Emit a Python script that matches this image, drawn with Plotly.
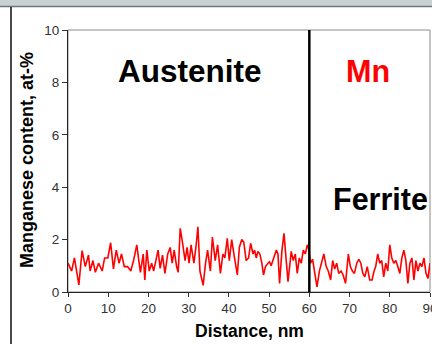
import plotly.graph_objects as go

# ---------------- data ----------------
distance_nm = [
    0.0, 0.9, 1.6, 2.7, 3.5, 4.3, 5.1, 5.5, 6.2, 6.8, 7.6, 8.5, 9.1, 9.9, 10.6, 11.3, 12.0, 12.7, 13.3, 14.0,
    14.8, 15.6, 16.3, 17.1, 18.0, 18.7, 19.1, 19.6, 20.2, 20.8, 21.3, 21.9, 22.4, 22.9, 23.5, 24.1, 24.8,
    25.4, 25.9, 26.4, 27.0, 27.4, 27.9, 28.5, 29.1, 29.6, 30.1, 30.6, 31.3, 31.8, 32.3, 32.8, 33.1, 33.6,
    34.2, 34.7, 35.4, 35.9, 36.6, 37.2, 37.9, 38.5, 39.0, 39.6, 40.1, 40.7, 41.4, 42.1, 42.6, 43.2, 43.7,
    44.3, 44.9, 45.4, 46.0, 46.4, 46.8, 47.2, 47.7, 48.2, 48.6, 49.1, 49.7, 50.1, 50.5, 51.2, 51.8, 52.2,
    52.6, 53.2, 53.7, 54.2, 54.7, 55.1, 55.5, 56.0, 56.5, 57.0, 57.5, 58.0, 58.5, 59.0, 59.5, 59.9,
    60.3, 60.8, 61.3, 61.9, 62.5, 63.0, 63.6, 64.2, 64.7, 65.3, 65.8, 66.3, 66.8, 67.3, 67.9, 68.4, 69.0,
    69.7, 70.2, 70.7, 71.2, 71.8, 72.3, 72.8, 73.3, 73.8, 74.4, 75.0, 75.6, 76.1, 76.5, 77.0, 77.5, 78.0,
    78.5, 79.0, 79.5, 80.0, 80.5, 81.0, 81.5, 82.0, 82.5, 83.0, 83.5, 84.0, 84.5, 85.0, 85.5, 86.0, 86.5,
    87.0, 87.5, 88.0, 88.5, 89.0, 89.5, 90.0,
]
mn_content = [
    1.1, 0.8, 1.3, 0.27, 1.58, 0.97, 1.41, 0.8, 1.2, 0.75, 1.1, 0.8, 1.3, 1.3, 1.88, 0.88, 1.6, 1.1, 1.45, 0.97,
    0.97, 0.8, 1.2, 1.8, 0.75, 1.45, 0.46, 1.6, 0.8, 1.1, 0.8, 1.3, 1.6, 0.9, 1.41, 0.71, 1.45,
    1.7, 1.1, 1.6, 0.97, 0.75, 2.43, 1.86, 1.2, 1.7, 1.1, 1.8, 1.1, 1.7, 2.49, 0.8, 0.6, 0.25,
    1.1, 1.6, 0.8, 2.1, 1.2, 1.8, 0.71, 1.45, 1.3, 2.05, 1.2, 2.0, 1.3, 0.65, 1.7, 2.0, 1.9,
    1.2, 1.3, 1.86, 1.45, 1.6, 1.3, 1.55, 1.45, 1.1, 0.65, 0.97, 1.1, 1.15, 1.0, 1.3, 1.6, 1.45,
    0.33, 1.6, 2.24, 1.3, 0.39, 0.97, 1.55, 1.2, 1.45, 0.71, 1.3, 1.1, 1.6, 1.45, 1.8, 1.6,
    1.1, 1.25, 0.8, 0.2, 0.8, 1.1, 1.45, 0.97, 0.8, 0.46, 1.2, 0.88, 1.1, 0.71, 0.8, 0.65, 0.33,
    1.45, 0.97, 0.8, 0.71, 1.1, 1.25, 1.1, 0.71, 0.58, 0.97, 0.46, 0.46, 0.8, 0.97, 1.45, 1.1, 1.2,
    0.58, 1.1, 0.8, 1.8, 1.3, 1.1, 1.2, 0.97, 0.71, 1.3, 1.6, 1.2, 0.33, 1.1, 1.3, 0.46, 1.2,
    0.8, 1.1, 0.97, 1.3, 0.71, 0.52, 1.1,
]
boundary_nm = 60
x_ticks = [0, 10, 20, 30, 40, 50, 60, 70, 80, 90]
y_ticks = [0, 2, 4, 6, 8, 10]
phase_labels = ["Austenite", "Mn", "Ferrite"]

# ---------------- layout geometry ----------------
W, H = 432, 344
ML, MR, MT, MB = 68, 2, 30, 52
PW, PH = W - ML - MR, H - MT - MB


def px(xp):
    return (xp - ML) / PW


def py(yp):
    return (H - MB - yp) / PH


FONT = "Liberation Sans, Arial, sans-serif"

fig = go.Figure()
fig.add_trace(go.Scatter(
    x=distance_nm, y=mn_content, mode="lines",
    line=dict(color="#ff0000", width=1.6), showlegend=False, hoverinfo="skip",
))

shapes = [
    # slide top bar
    dict(type="rect", xref="paper", yref="paper", x0=px(0), x1=px(W), y0=py(0), y1=py(6.5),
         fillcolor="#c9d2d3", line=dict(width=0), layer="below"),
    dict(type="line", xref="paper", yref="paper", x0=px(0), x1=px(W), y0=py(6.5), y1=py(6.5),
         line=dict(color="#6f7878", width=1.5)),
    # slide left frame line
    dict(type="line", xref="paper", yref="paper", x0=px(11), x1=px(11), y0=py(7), y1=py(H),
         line=dict(color="#111111", width=1.5)),
    # plot frame (top/right grey)
    dict(type="rect", xref="paper", yref="paper", x0=0, x1=1, y0=0, y1=1,
         line=dict(color="#8c8c8c", width=1), layer="below"),
    # phase boundary
    dict(type="line", xref="x", yref="y", x0=boundary_nm, x1=boundary_nm, y0=0, y1=10.1,
         line=dict(color="#000000", width=2.5)),
]

annotations = [
    dict(text=phase_labels[0], x=px(190), y=py(71), xref="paper", yref="paper",
         showarrow=False, xanchor="center", yanchor="middle",
         font=dict(family=FONT, size=31.5, color="#000000", weight="bold")),
    dict(text=phase_labels[1], x=px(368), y=py(71), xref="paper", yref="paper",
         showarrow=False, xanchor="center", yanchor="middle",
         font=dict(family=FONT, size=30.5, color="#ff0000", weight="bold")),
    dict(text=phase_labels[2], x=px(331), y=py(199), xref="paper", yref="paper",
         showarrow=False, xanchor="left", yanchor="middle",
         font=dict(family=FONT, size=30.5, color="#000000", weight="bold")),
    dict(text="Distance, nm", x=px(249), y=py(331), xref="paper", yref="paper",
         showarrow=False, xanchor="center", yanchor="middle",
         font=dict(family=FONT, size=17.5, color="#000000", weight="bold")),
    dict(text="Manganese content, at-%", x=px(27), y=py(160), xref="paper", yref="paper",
         showarrow=False, xanchor="center", yanchor="middle", textangle=-90,
         font=dict(family=FONT, size=18, color="#000000", weight="bold")),
]

fig.update_layout(
    width=W, height=H,
    margin=dict(l=ML, r=MR, t=MT, b=MB, pad=0, autoexpand=False),
    paper_bgcolor="white", plot_bgcolor="white",
    shapes=shapes, annotations=annotations,
    xaxis=dict(range=[0, 90], tickvals=x_ticks, ticks="outside", ticklen=4, tickwidth=1,
               tickcolor="#333333", showline=True, linecolor="#222222", linewidth=1.2,
               showgrid=False, zeroline=False, ticklabeloverflow="allow", automargin=False,
               tickfont=dict(family=FONT, size=13.5, color="#333333")),
    yaxis=dict(range=[0, 10], tickvals=y_ticks, ticks="outside", ticklen=5, tickwidth=1,
               tickcolor="#333333", showline=True, linecolor="#222222", linewidth=1.2,
               showgrid=False, zeroline=False, automargin=False,
               tickfont=dict(family=FONT, size=13.5, color="#333333")),
)

fig.write_html(
    "out.html",
    config={"displayModeBar": False},
    post_script="document.body.style.margin='0';document.body.style.overflow='hidden';",
)
